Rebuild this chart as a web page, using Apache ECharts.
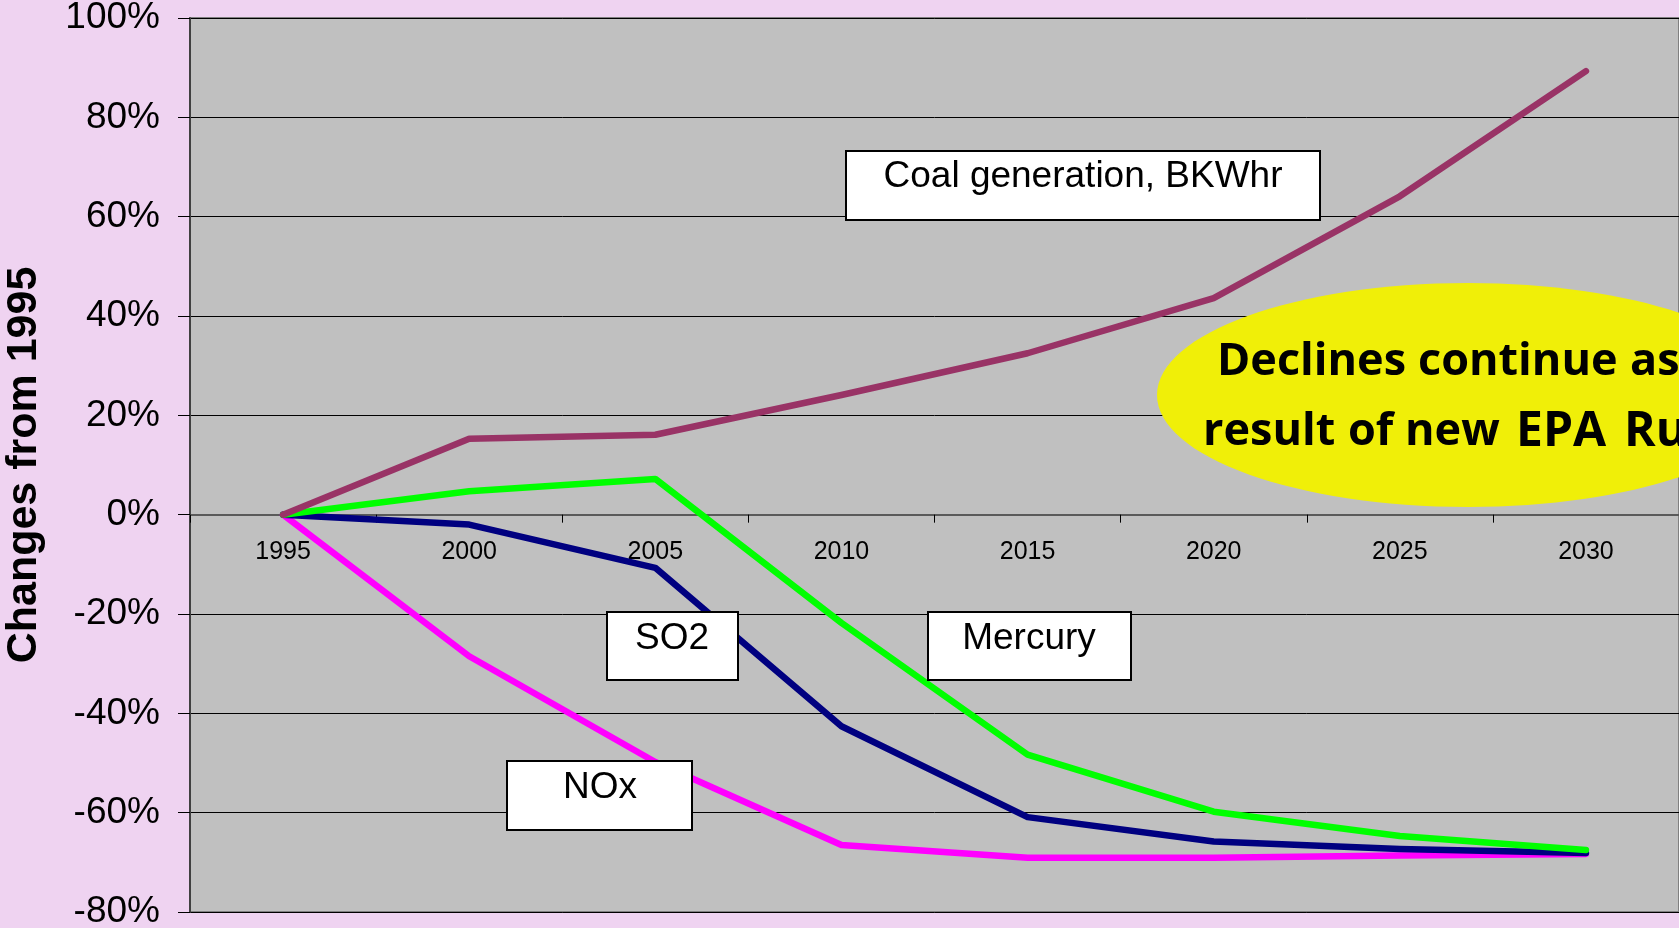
<!DOCTYPE html>
<html>
<head>
<meta charset="utf-8">
<script src="https://cdn.jsdelivr.net/npm/echarts@6/dist/echarts.min.js"></script>
<style>
html,body{margin:0;padding:0;background:#EFD3F1;}
#chart{width:1679px;height:928px;}
</style>
</head>
<body>
<div id="chart"></div>
<script>
const years = ['1995','2000','2005','2010','2015','2020','2025','2030'];
const coal = [0, 15.3, 16.1, 24.1, 32.5, 43.6, 64.1, 89.3];
const mercury = [0, 4.7, 7.2, -21.8, -48.3, -59.8, -64.7, -67.5];
const so2 = [0, -2.0, -10.7, -42.6, -60.9, -65.8, -67.3, -68.1];
const nox = [0, -28.5, -49.8, -66.5, -69.1, -69.1, -68.6, -68.3];
const yMin = -80, yMax = 100, yStep = 20;
const calloutLine1 = ['Declines', 'continue', 'as'];
const calloutLine2 = ['result', 'of', 'new', 'EPA', 'Rules'];

const gridTop = 18, gridBottom = 16, H = 928;
const plotH = H - gridTop - gridBottom;
const zeroOffset = plotH * (0 - yMin) / (yMax - yMin); // distance from bottom edge to the 0 line

const chart = echarts.init(document.getElementById('chart'));
const font = 'Liberation Sans, Arial, sans-serif';
function lineSeries(name, data, color) {
  return {
    name: name, type: 'line', data: data, symbol: 'none',
    lineStyle: {color: color, width: 6.5, cap: 'round', join: 'round'},
    animation: false
  };
}
function box(x, y, w, h, label, tx, ty) {
  return [
    {type: 'rect', z: 50, shape: {x: x, y: y, width: w, height: h},
     style: {fill: '#FFFFFF', stroke: '#000000', lineWidth: 2}},
    {type: 'text', z: 51, style: {x: tx, y: ty, text: label, fill: '#000',
     font: '37px ' + font, textAlign: 'center', textVerticalAlign: 'middle'}}
  ];
}
function words(list, xs, aligns, sizes, y) {
  return list.map((w, i) => ({type: 'text', z: 41, style: {x: xs[i], y: y, text: w,
    fill: '#000', font: 'bold ' + sizes[i] + 'px "Open Sans", sans-serif',
    textAlign: aligns[i], textVerticalAlign: 'middle'}}));
}
chart.setOption({
  backgroundColor: '#EFD3F1',
  animation: false,
  grid: {left: 190, top: gridTop, right: 0, bottom: gridBottom, show: true,
         containLabel: false, outerBoundsMode: 'none',
         backgroundColor: '#C0C0C0', borderColor: '#808080', borderWidth: 2},
  xAxis: {
    type: 'category', data: years, boundaryGap: true, position: 'bottom',
    offset: -zeroOffset,
    axisLine: {onZero: false, lineStyle: {color: '#5a5a5a', width: 2}},
    axisTick: {show: true, length: 8, lineStyle: {color: '#000'}},
    axisLabel: {fontSize: 25, color: '#000', fontFamily: font, margin: 25},
    splitLine: {show: false}
  },
  yAxis: {
    type: 'value', min: yMin, max: yMax, interval: yStep,
    name: 'Changes from 1995', nameLocation: 'middle', nameGap: 144,
    nameTextStyle: {fontSize: 43, fontWeight: 'bold', color: '#000', fontFamily: font},
    axisLine: {show: true, onZero: false, lineStyle: {color: '#404040', width: 2}},
    axisTick: {show: true, length: 12, lineStyle: {color: '#000'}},
    axisLabel: {fontSize: 37, color: '#000', fontFamily: font, margin: 30,
                padding: [8, 0, 0, 0], formatter: '{value}%'},
    splitLine: {show: true, lineStyle: {color: '#000', width: 1}}
  },
  series: [
    lineSeries('NOx', nox, '#FF00FF'),
    lineSeries('SO2', so2, '#000080'),
    lineSeries('Mercury', mercury, '#00FF00'),
    lineSeries('Coal generation, BKWhr', coal, '#993366')
  ],
  graphic: [
    {type: 'ellipse', z: 40, shape: {cx: 1468, cy: 395, rx: 311, ry: 112},
     style: {fill: '#F0EF08'}}
  ].concat(
    words(calloutLine1, [1217, 1418, 1630], ['left', 'left', 'left'], [45, 45, 45], 362),
    words(calloutLine2, [1203, 1348, 1405, 1516, 1624],
          ['left', 'left', 'left', 'left', 'left'], [45, 45, 45, 48, 48], 432),
    box(846, 151, 474, 69, 'Coal generation, BKWhr', 1083, 177),
    box(607, 612, 131, 68, 'SO2', 672, 639),
    box(928, 612, 203, 68, 'Mercury', 1029, 639),
    box(507, 761, 185, 69, 'NOx', 600, 788)
  )
});
</script>
</body>
</html>
